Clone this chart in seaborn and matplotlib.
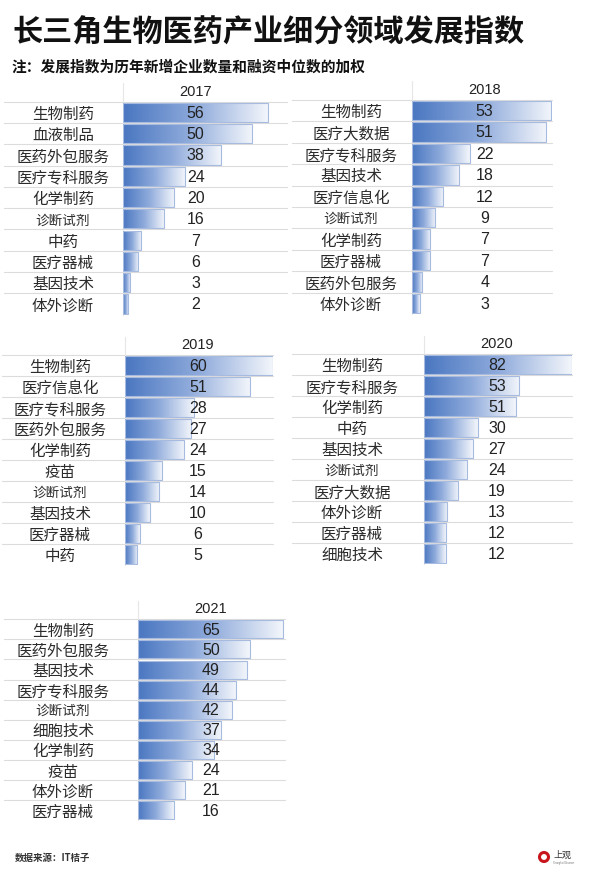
import numpy as np
import matplotlib.pyplot as plt
import seaborn as sns
from matplotlib.colors import LinearSegmentedColormap
from matplotlib.patches import Circle

# data
years = ['2017', '2018', '2019', '2020', '2021']
cats_2017 = ['生物制药', '血液制品', '医药外包服务', '医疗专科服务', '化学制药', '诊断试剂', '中药', '医疗器械', '基因技术', '体外诊断']
vals_2017 = [56, 50, 38, 24, 20, 16, 7, 6, 3, 2]
cats_2018 = ['生物制药', '医疗大数据', '医疗专科服务', '基因技术', '医疗信息化', '诊断试剂', '化学制药', '医疗器械', '医药外包服务', '体外诊断']
vals_2018 = [53, 51, 22, 18, 12, 9, 7, 7, 4, 3]
cats_2019 = ['生物制药', '医疗信息化', '医疗专科服务', '医药外包服务', '化学制药', '疫苗', '诊断试剂', '基因技术', '医疗器械', '中药']
vals_2019 = [60, 51, 28, 27, 24, 15, 14, 10, 6, 5]
cats_2020 = ['生物制药', '医疗专科服务', '化学制药', '中药', '基因技术', '诊断试剂', '医疗大数据', '体外诊断', '医疗器械', '细胞技术']
vals_2020 = [82, 53, 51, 30, 27, 24, 19, 13, 12, 12]
cats_2021 = ['生物制药', '医药外包服务', '基因技术', '医疗专科服务', '诊断试剂', '细胞技术', '化学制药', '疫苗', '体外诊断', '医疗器械']
vals_2021 = [65, 50, 49, 44, 42, 37, 34, 24, 21, 16]

panels = {
    '2017': (cats_2017, vals_2017),
    '2018': (cats_2018, vals_2018),
    '2019': (cats_2019, vals_2019),
    '2020': (cats_2020, vals_2020),
    '2021': (cats_2021, vals_2021),
}

# layout in pixels: bar start, px per unit, right end, line left, first line y, row height, header y, label centre
layout = {
    '2017': dict(x0=122.7, ppu=2.589, right=287, left=4, top=101.7, rowh=21.3, head=91.7, lab=63),
    '2018': dict(x0=411.7, ppu=2.628, right=552, left=292, top=100.0, rowh=21.4, head=90.0, lab=351),
    '2019': dict(x0=125.0, ppu=2.46, right=273, left=2, top=355.0, rowh=21.0, head=345.0, lab=60),
    '2020': dict(x0=424.0, ppu=1.80, right=572, left=292, top=354.0, rowh=21.0, head=344.0, lab=352),
    '2021': dict(x0=138.0, ppu=2.23, right=285, left=4, top=619.3, rowh=20.1, head=609.0, lab=63),
}

W, H = 600, 877
sns.set_theme(style='white')
plt.rcParams['font.family'] = ['Noto Sans CJK SC', 'DejaVu Sans']

fig = plt.figure(figsize=(W / 100, H / 100), dpi=100)
fig.patch.set_facecolor('white')

cmap = LinearSegmentedColormap.from_list('bar', ['#4a77c1', '#8eaadb', '#f3f6fb'])
grad = np.linspace(0, 1, 256).reshape(1, -1)
num_font = ['Liberation Sans', 'DejaVu Sans']

for year in years:
    cats, vals = panels[year]
    g = layout[year]
    n = len(cats)
    ax = fig.add_axes([g['x0'] / W, 1 - (g['top'] + n * g['rowh']) / H,
                       (g['right'] - g['x0']) / W, n * g['rowh'] / H])
    sns.barplot(x=vals, y=cats, orient='h', ax=ax, width=0.9, color='#4a77c1')
    xmax = (g['right'] - g['x0']) / g['ppu']

    # gradient fill clipped to each bar
    for p in ax.patches:
        b = p.get_bbox()
        im = ax.imshow(grad, extent=[b.x0, b.x1, b.y1, b.y0], aspect='auto',
                       cmap=cmap, zorder=2, interpolation='bilinear')
        im.set_clip_path(p)
        p.set_facecolor('none')
        p.set_edgecolor('#a7bbe0')
        p.set_linewidth(0.8)
        p.set_zorder(3)

    ax.set_xlim(0, xmax)
    ax.set_ylim(n - 0.5, -0.5)
    ax.set_xticks([])
    ax.set_xlabel('')
    ax.set_ylabel('')
    for s in ax.spines.values():
        s.set_visible(False)
    ax.patch.set_alpha(0)

    # row separators
    xl = (g['left'] - g['x0']) / g['ppu']
    for i in range(n):
        ax.plot([xl, xmax], [i - 0.5, i - 0.5], color='#dcdcdc', lw=0.8,
                clip_on=False, zorder=1)
    head_y = -0.5 - (g['top'] - g['head']) / g['rowh']
    ax.plot([0, 0], [head_y - 0.4, n - 0.5], color='#e6e6e6', lw=0.8,
            clip_on=False, zorder=1)

    # category labels centred in their column
    ax.tick_params(axis='y', length=0, pad=(g['x0'] - g['lab']) * 0.72)
    for t in ax.get_yticklabels():
        t.set_ha('center')
        t.set_color('#2b2b2b')
        t.set_fontsize(9.8 if t.get_text() == '诊断试剂' else 11.2)

    vx = 73 / g['ppu']
    for i, v in enumerate(vals):
        ax.text(vx, i + 0.04, str(v), ha='center', va='center', fontsize=11.5,
                color='#222222', family=num_font, zorder=4)
    ax.text(vx, head_y, year, ha='center', va='center', fontsize=10.5,
            color='#222222', family=num_font)

fig.text(12 / W, 1 - 33 / H, '长三角生物医药产业细分领域发展指数', fontsize=21.7,
         fontweight='bold', ha='left', va='center', color='#111111')
fig.text(12 / W, 1 - 67 / H, '注：发展指数为历年新增企业数量和融资中位数的加权', fontsize=10.6,
         fontweight='bold', ha='left', va='center', color='#111111')
fig.text(15 / W, 1 - 858 / H, '数据来源：IT桔子', fontsize=6.8, fontweight='bold',
         ha='left', va='center', color='#333333')

# small logo
fig.add_artist(Circle((544 / 100, (H - 857) / 100), 0.045, transform=fig.dpi_scale_trans,
                      facecolor='white', edgecolor='#c8161d', lw=2.2))
fig.text(553 / W, 1 - 855 / H, '上观', fontsize=6.5, ha='left', va='center', color='#333333')
fig.text(553 / W, 1 - 863 / H, 'Shanghai Observer', fontsize=1.8, ha='left', va='center',
         color='#777777', family=num_font)

fig.savefig('out.png', dpi=100, facecolor='white')
